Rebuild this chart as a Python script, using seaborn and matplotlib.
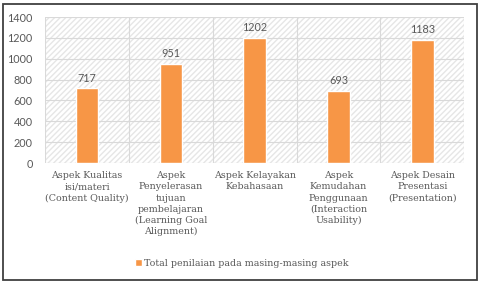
import matplotlib
matplotlib.use("Agg")
import matplotlib.pyplot as plt
import pandas as pd
import seaborn as sns
from matplotlib.patches import Rectangle

categories = [
    "Aspek Kualitas\nisi/materi\n(Content Quality)",
    "Aspek\nPenyelerasan\ntujuan\npembelajaran\n(Learning Goal\nAlignment)",
    "Aspek Kelayakan\nKebahasaan",
    "Aspek\nKemudahan\nPenggunaan\n(Interaction\nUsability)",
    "Aspek Desain\nPresentasi\n(Presentation)",
]
values = [717, 951, 1202, 693, 1183]
series_name = "Total penilaian pada masing-masing aspek"
y_ticks = [0, 200, 400, 600, 800, 1000, 1200, 1400]

df = pd.DataFrame({"aspek": categories, "total": values, "series": series_name})

sns.set_style("white")
plt.rcParams["font.family"] = ["DejaVu Serif"]
text_color = "#595959"
bar_color = "#F79646"
num_font = "Lato"

fig = plt.figure(figsize=(4.8, 2.84), dpi=100)
ax = fig.add_axes([0.094, 0.426, 0.873, 0.514])

# hatched plot background
bg = Rectangle((0, 0), 1, 1, transform=ax.transAxes, facecolor="white",
               edgecolor="#e6e6e6", hatch="//////", lw=0, zorder=0)
ax.add_patch(bg)

sns.barplot(data=df, x="aspek", y="total", hue="series", palette=[bar_color],
            saturation=1, width=0.27, ax=ax, zorder=3, legend=True)

ax.set_ylim(0, 1400)
ax.set_yticks(y_ticks)
ax.set_xlim(-0.5, len(categories) - 0.5)
for y in y_ticks:
    ax.axhline(y, color="#d9d9d9", lw=0.8, zorder=1)
for x in range(len(categories) + 1):
    ax.axvline(x - 0.5, color="#d9d9d9", lw=0.8, zorder=1)

for i, v in enumerate(values):
    ax.text(i, v + 45, str(v), ha="center", va="bottom", fontsize=7.8,
            family=num_font, color=text_color)

for s in ax.spines.values():
    s.set_visible(False)
ax.set_xlabel("")
ax.set_ylabel("")
ax.tick_params(axis="both", length=0, labelsize=6.8, colors=text_color)
ax.tick_params(axis="y", pad=9, labelsize=7.8)
ax.tick_params(axis="x", pad=6)
plt.setp(ax.get_yticklabels(), family=num_font)
plt.setp(ax.get_xticklabels(), linespacing=1.3)

ax.legend(loc="center", bbox_to_anchor=(242 / 480, 1 - 263 / 284), bbox_transform=fig.transFigure,
          frameon=False, fontsize=6.8, handlelength=0.7, handleheight=0.7,
          handletextpad=0.3, labelcolor=text_color)

# outer border
fig.patches.append(Rectangle((3 / 480, 4 / 284), 474 / 480, 276 / 284,
                             transform=fig.transFigure, fill=False,
                             edgecolor="#404040", lw=1.3))

fig.savefig("out.png", dpi=100, facecolor="white")
